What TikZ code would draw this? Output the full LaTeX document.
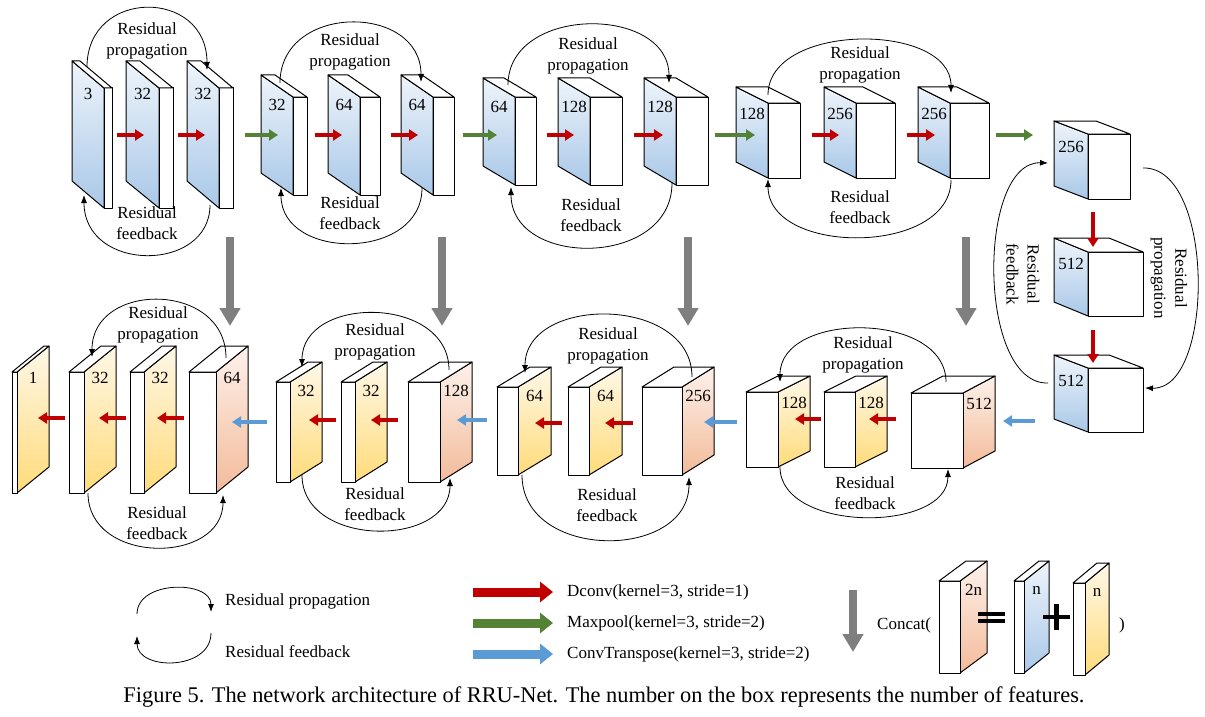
\documentclass[tikz,border=0pt]{standalone}
\usepackage{fontspec}
\setmainfont{Liberation Serif}
\usetikzlibrary{arrows.meta}

\definecolor{bluetop}{HTML}{EEF4FB}
\definecolor{bluebot}{HTML}{A9C8E8}
\definecolor{yeltop}{HTML}{FFF8E8}
\definecolor{yelbot}{HTML}{FFDB7A}
\definecolor{saltop}{HTML}{FDF1EB}
\definecolor{salbot}{HTML}{F3BB99}
\definecolor{dred}{HTML}{C00000}
\definecolor{dgreen}{HTML}{548235}
\definecolor{lblue}{HTML}{5B9BD5}
\definecolor{dgray}{HTML}{7F7F7F}

\tikzset{
 face/.style={draw=black,line width=1pt,line join=round},
 num/.style={font=\fontsize{17}{20}\selectfont,inner sep=0pt},
 txt/.style={font=\fontsize{17}{21}\selectfont,align=center,inner sep=0pt},
 res/.style={line width=0.8pt,-{Latex[length=8pt,width=6pt]}},
 dconv/.style={dred,line width=4pt,-{Triangle[length=9pt,width=11pt]}},
 mpool/.style={dgreen,line width=4pt,-{Triangle[length=9pt,width=11pt]}},
 convt/.style={lblue,line width=4pt,-{Triangle[length=9pt,width=11pt]}},
 bigarrow/.style={line width=9pt,-{Triangle[length=13pt,width=20pt]}},
 concatarrow/.style={dgray,line width=8pt,-{Triangle[length=18pt,width=20pt]}}
}

\newcommand{\encbox}[8]{%
 \draw[face,top color=bluetop,bottom color=bluebot] (#2,#3) -- (#2-#6,#3-#7) -- (#2-#6,#3+#5-#7) -- (#2,#3+#5) -- cycle;
 \draw[face,fill=white] (#2,#3) rectangle (#2+#4,#3+#5);
 \draw[face,fill=white] (#2,#3) -- (#2-#6,#3-#7) -- (#2-#6+#4,#3-#7) -- (#2+#4,#3) -- cycle;
 \node[num] (#1) at ({#2-#6/2},{#3-#7/2+19}) {#8};}

\newcommand{\decbox}[9]{%
 \draw[face,top color=#9top,bottom color=#9bot] (#2+#4,#3) -- (#2+#4+#6,#3-#7) -- (#2+#4+#6,#3+#5-#7) -- (#2+#4,#3+#5) -- cycle;
 \draw[face,fill=white] (#2,#3) rectangle (#2+#4,#3+#5);
 \draw[face,fill=white] (#2,#3) -- (#2+#6,#3-#7) -- (#2+#4+#6,#3-#7) -- (#2+#4,#3) -- cycle;
 \node[num] (#1) at ({#2+#4+#6/2},{#3-#7/2+19}) {#8};}

\newcommand{\resarc}[6]{%
 \coordinate (#1s) at (#2,#3);
 \coordinate (#1e) at (#4,#5);
 \draw[res] (#1s) .. controls (#2,#6) and (#4,#6) .. (#1e);}

\newcommand{\flow}[6]{%
 \coordinate (#2s) at (#3,#4);
 \coordinate (#2e) at (#5,#6);
 \draw[#1] (#2s) -- (#2e);}

\begin{document}
\begin{tikzpicture}[x=1pt,y=-1pt]
\useasboundingbox (0,0) rectangle (1205,717);

\encbox{b1}{104}{88}{8}{120}{32}{27}{3}
\encbox{b2}{159}{88}{14}{120}{33}{27}{32}
\encbox{b3}{219}{88}{14}{120}{32}{27}{32}
\encbox{b4}{293}{97}{14}{98}{32}{22}{32}
\encbox{b5}{360}{97}{20}{98}{32}{22}{64}
\encbox{b6}{433}{97}{21}{98}{32}{22}{64}
\encbox{b7}{515}{97}{21}{88}{32}{19}{64}
\encbox{b8}{590}{97}{32}{88}{32}{19}{128}
\encbox{b9}{676}{97}{32}{88}{32}{19}{128}
\encbox{b10}{768}{103}{32}{75}{32}{16}{128}
\encbox{b11}{856}{103}{39}{75}{32}{16}{256}
\encbox{b12}{950}{103}{39}{75}{32}{16}{256}
\encbox{b13}{1088}{134}{42}{65}{34}{13}{256}
\encbox{b14}{1088}{252}{55}{64}{34}{14}{512}
\encbox{b15}{1088}{368}{55}{64}{34}{13}{512}

\decbox{d1}{12}{372}{5}{121}{32}{26}{1}{yel}
\decbox{d2}{69}{372}{15}{121}{32}{26}{32}{yel}
\decbox{d3}{130}{372}{14}{121}{32}{26}{32}{yel}
\decbox{d4}{189}{372}{27}{121}{32}{26}{64}{sal}
\decbox{d5}{276}{382}{14}{100}{32}{20}{32}{yel}
\decbox{d6}{341}{382}{14}{100}{32}{20}{32}{yel}
\decbox{d7}{408}{382}{32}{100}{32}{20}{128}{sal}
\decbox{d8}{497}{387}{21}{88}{33}{20}{64}{yel}
\decbox{d9}{568}{387}{21}{88}{33}{20}{64}{yel}
\decbox{d10}{642}{387}{40}{88}{32}{20}{256}{sal}
\decbox{d11}{746}{392}{32}{75}{32}{16}{128}{yel}
\decbox{d12}{824}{392}{31}{75}{32}{16}{128}{yel}
\decbox{d13}{911}{393}{52}{75}{32}{17}{512}{sal}

\flow{dconv}{a1}{117}{135}{144}{135}
\flow{dconv}{a2}{178}{135}{205}{135}
\flow{mpool}{a3}{245}{135}{278}{135}
\flow{dconv}{a4}{315}{135}{342}{135}
\flow{dconv}{a5}{391}{135}{418}{135}
\flow{mpool}{a6}{463}{135}{497}{135}
\flow{dconv}{a7}{547}{135}{574}{135}
\flow{dconv}{a8}{634}{135}{663}{135}
\flow{mpool}{a9}{715}{135}{755}{135}
\flow{dconv}{a10}{812}{135}{839}{135}
\flow{dconv}{a11}{907}{135}{935}{135}
\flow{mpool}{a12}{996}{135}{1033}{135}
\flow{dconv}{a13}{1093}{212}{1093}{247}
\flow{dconv}{a14}{1093}{330}{1093}{363}
\flow{convt}{a15}{1035}{421}{1003}{421}
\flow{dconv}{a16}{896}{419}{869}{419}
\flow{dconv}{a17}{821}{419}{795}{419}
\flow{convt}{a18}{737}{422}{704}{422}
\flow{dconv}{a19}{633}{423}{605}{423}
\flow{dconv}{a20}{562}{423}{535}{423}
\flow{convt}{a21}{487}{420}{457}{420}
\flow{dconv}{a22}{398}{420}{371}{420}
\flow{dconv}{a23}{336}{420}{309}{420}
\flow{convt}{a24}{267}{422}{232}{422}
\flow{dconv}{a25}{184}{418}{157}{418}
\flow{dconv}{a26}{126}{418}{99}{418}
\flow{dconv}{a27}{65}{418}{38}{418}

\flow{concatarrow}{s1}{230}{237}{230}{326}
\flow{concatarrow}{s2}{442}{237}{442}{326}
\flow{concatarrow}{s3}{688}{237}{688}{326}
\flow{concatarrow}{s4}{966}{237}{966}{326}

\resarc{p1}{87}{67}{207}{70}{-12}
\resarc{f1}{210}{205}{84}{195}{273}
\resarc{p2}{280}{83}{421}{82}{3}
\resarc{f2}{422}{188}{281}{188}{261}
\resarc{p3}{508}{85}{669}{83}{5}
\resarc{f3}{672}{183}{511}{187}{268}
\resarc{p4}{768}{95}{951}{93}{22}
\resarc{f4}{951}{180}{768}{179}{256}
\coordinate (p5s) at (1143,168);
\coordinate (p5e) at (1145,388);
\draw[res] (p5s) .. controls (1215,166) and (1215,390) .. (p5e);
\coordinate (f5s) at (1048,383);
\coordinate (f5e) at (1048,163);
\draw[res] (f5s) .. controls (977,385) and (977,161) .. (f5e);
\resarc{p6}{226}{358}{92}{357}{281}
\resarc{f6}{88}{493}{223}{495}{565}
\resarc{p7}{449}{370}{302}{367}{295}
\resarc{f7}{302}{475}{450}{478}{548}
\resarc{p8}{692}{377}{525}{373}{295}
\resarc{f8}{522}{475}{689}{477}{561}
\resarc{p9}{946}{382}{780}{382}{311}
\resarc{f9}{780}{467}{948}{469}{533}

\node[txt] (t1) at (147,41) {Residual\\propagation};
\node[txt] (t2) at (147,223) {Residual\\feedback};
\node[txt] (t3) at (350,52) {Residual\\propagation};
\node[txt] (t4) at (350,213) {Residual\\feedback};
\node[txt] (t5) at (588,56) {Residual\\propagation};
\node[txt] (t6) at (591,215) {Residual\\feedback};
\node[txt] (t7) at (860,65) {Residual\\propagation};
\node[txt] (t8) at (860,207) {Residual\\feedback};
\node[txt,rotate=-90] (t9) at (1169,278) {Residual\\propagation};
\node[txt,rotate=-90] (t10) at (1023,274) {Residual\\feedback};
\node[txt] (t11) at (158,325) {Residual\\propagation};
\node[txt] (t12) at (157,523) {Residual\\feedback};
\node[txt] (t13) at (375,342) {Residual\\propagation};
\node[txt] (t14) at (375,504) {Residual\\feedback};
\node[txt] (t15) at (608,346) {Residual\\propagation};
\node[txt] (t16) at (607,505) {Residual\\feedback};
\node[txt] (t17) at (863,355) {Residual\\propagation};
\node[txt] (t18) at (865,493) {Residual\\feedback};

\resarc{lp}{137}{614}{211}{612}{580}
\resarc{lf}{211}{633}{137}{636}{671}
\node[txt,anchor=west] (lpt) at (225,601) {Residual propagation};
\node[txt,anchor=west] (lft) at (225,652) {Residual feedback};

\flow{bigarrow,dred}{l1}{473}{592}{553}{592}
\flow{bigarrow,dgreen}{l2}{473}{623}{553}{623}
\flow{bigarrow,lblue}{l3}{473}{654}{553}{654}
\node[txt,anchor=west] (l1t) at (567,592) {Dconv(kernel=3, stride=1)};
\node[txt,anchor=west] (l2t) at (567,623) {Maxpool(kernel=3, stride=2)};
\node[txt,anchor=west] (l3t) at (567,654) {ConvTranspose(kernel=3, stride=2)};

\flow{concatarrow}{l4}{853}{590}{853}{652}
\node[txt,anchor=west] (cat) at (877,625) {Concat(};
\decbox{c1}{939}{581}{21}{92}{27}{20}{2n}{sal}
\decbox{c2}{1014}{581}{10}{92}{25}{20}{n}{blue}
\decbox{c3}{1073}{583}{12}{92}{24}{20}{n}{yel}
\node[txt] (catend) at (1122,625) {)};
\draw[line width=3.5pt] (978,614) -- (1005,614);
\draw[line width=3.5pt] (978,621) -- (1005,621);
\draw[line width=4.5pt] (1043,617) -- (1070,617);
\draw[line width=4.5pt] (1056.5,604) -- (1056.5,630);

\node[font=\fontsize{22.4}{26}\selectfont] (cap) at (604,697) {Figure 5. The network architecture of RRU-Net. The number on the box represents the number of features.};
\end{tikzpicture}
\end{document}
